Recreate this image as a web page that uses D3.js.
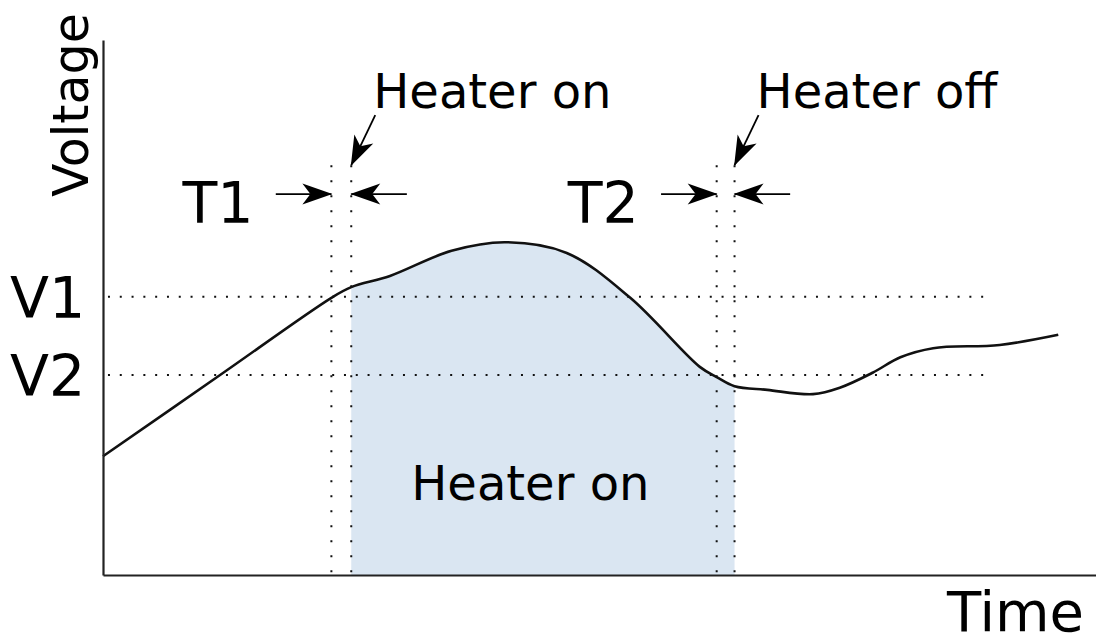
<!DOCTYPE html>
<html>
<head>
<meta charset="utf-8">
<script src="https://cdn.jsdelivr.net/npm/d3@7"></script>
<style>
  body { margin: 0; background: #fff; }
  svg text { font-family: "DejaVu Sans", sans-serif; fill: #000; }
</style>
</head>
<body>
<div id="chart-area"></div>
<script>

// Data (time and voltage in arbitrary units 0..100)
var times    = [0, 11.5, 23, 25, 28.9, 35.1, 40.5, 46.7, 53.1, 60.1, 61.8, 63.6, 66.9, 71.5, 74.2, 77.5, 80.3, 83.6, 90.3, 96.2];
var voltages = [22.2, 37.0, 51.8, 53.8, 55.9, 60.6, 62.2, 60.2, 51.8, 38.9, 37.0, 35.3, 34.6, 33.8, 35.0, 37.8, 40.7, 42.4, 43.0, 44.9];

// Heater switching: T1 window then heater on, T2 window then heater off
var switchTimes  = [23, 25, 61.8, 63.6];
var windowLabels = ["T1", "T2"];
var eventLabels  = ["Heater on", "Heater off"];

// Voltage levels
var levelLabels = ["V1", "V2"];
var levelValues = [52, 37.4];

var data = times.map(function(t, i) { return { t: t, v: voltages[i] }; });

// Setup the canvas
var width = 1096, height = 637;
var svg = d3.select("#chart-area").append("svg")
	.attr("width", width)
	.attr("height", height);

var x = d3.scaleLinear().domain([0, 100]).range([103, 1096]);
var y = d3.scaleLinear().domain([0, 100]).range([575, 40]);

var defs = svg.append("defs");
defs.append("marker")
	.attr("id", "head")
	.attr("markerUnits", "userSpaceOnUse")
	.attr("viewBox", "-32 -13 34 26")
	.attr("refX", 0).attr("refY", 0)
	.attr("markerWidth", 34).attr("markerHeight", 26)
	.attr("orient", "auto")
	.append("path")
		.attr("d", "M1,0 L-29,-10.5 L-21,0 L-29,10.5 Z")
		.attr("fill", "#000");

defs.append("clipPath")
	.attr("id", "heat-clip")
	.append("rect")
		.attr("x", x(switchTimes[1]))
		.attr("y", 0)
		.attr("width", x(switchTimes[3]) - x(switchTimes[1]))
		.attr("height", height);

// Shaded region while heater is on
var curve = d3.curveCatmullRom.alpha(0.5);
svg.append("path")
	.datum(data)
	.attr("clip-path", "url(#heat-clip)")
	.attr("fill", "#dae6f2")
	.attr("d", d3.area().x(function(d) { return x(d.t); }).y0(y(0)).y1(function(d) { return y(d.v); }).curve(curve));

// Dotted guides
var dotTop = 76.6;
svg.selectAll(".vguide").data(switchTimes).enter()
	.append("line")
		.attr("class", "vguide")
		.attr("x1", function(d) { return x(d); })
		.attr("x2", function(d) { return x(d); })
		.attr("y1", y(dotTop))
		.attr("y2", y(0))
		.attr("stroke", "#111")
		.attr("stroke-width", 2)
		.attr("stroke-dasharray", "2,13");

svg.selectAll(".hguide").data(levelValues).enter()
	.append("line")
		.attr("class", "hguide")
		.attr("x1", x(0.5))
		.attr("x2", x(89))
		.attr("y1", function(d) { return y(d); })
		.attr("y2", function(d) { return y(d); })
		.attr("stroke", "#111")
		.attr("stroke-width", 2)
		.attr("stroke-dasharray", "2,9.8");

// The voltage curve
svg.append("path")
	.datum(data)
	.attr("fill", "none")
	.attr("stroke", "#111")
	.attr("stroke-width", 2.6)
	.attr("d", d3.line().x(function(d) { return x(d.t); }).y(function(d) { return y(d.v); }).curve(curve));

// Axes (lines only)
svg.append("g")
	.attr("transform", "translate(" + x(0) + ",0)")
	.call(d3.axisLeft(y).ticks(0).tickSizeOuter(0))
	.select(".domain").attr("stroke", "#222").attr("stroke-width", 2.2);

svg.append("g")
	.attr("transform", "translate(0," + y(0) + ")")
	.call(d3.axisBottom(x).ticks(0).tickSizeOuter(0))
	.select(".domain").attr("stroke", "#222").attr("stroke-width", 2.2);

// Axis labels
svg.append("text")
	.attr("transform", "translate(88,197) rotate(-90)")
	.attr("font-size", "49px")
	.text("Voltage");

svg.append("text")
	.attr("x", 947).attr("y", 631)
	.attr("font-size", "56px")
	.text("Time");

// Level labels
svg.selectAll(".level").data(levelValues).enter()
	.append("text")
		.attr("class", "level")
		.attr("x", 10)
		.attr("y", function(d) { return y(d) + 21; })
		.attr("font-size", "57px")
		.text(function(d, i) { return levelLabels[i]; });

// T1 / T2 windows with converging arrows
var arrowV = 71.2, arrowLen = 5.6;
windowLabels.forEach(function(label, i) {
	var t0 = switchTimes[i * 2], t1 = switchTimes[i * 2 + 1];
	svg.append("line")
		.attr("x1", x(t0 - arrowLen)).attr("x2", x(t0))
		.attr("y1", y(arrowV)).attr("y2", y(arrowV))
		.attr("stroke", "#000").attr("stroke-width", 1.8)
		.attr("marker-end", "url(#head)");
	svg.append("line")
		.attr("x1", x(t1 + arrowLen)).attr("x2", x(t1))
		.attr("y1", y(arrowV)).attr("y2", y(arrowV))
		.attr("stroke", "#000").attr("stroke-width", 1.8)
		.attr("marker-end", "url(#head)");
	svg.append("text")
		.attr("x", x(t0) - 149)
		.attr("y", y(arrowV) + 29)
		.attr("font-size", "57px")
		.text(label);

	// Event label with diagonal arrow pointing at the switch line
	svg.append("line")
		.attr("x1", x(t1) + 24).attr("y1", y(dotTop) - 50)
		.attr("x2", x(t1)).attr("y2", y(dotTop))
		.attr("stroke", "#000").attr("stroke-width", 1.8)
		.attr("marker-end", "url(#head)");
	svg.append("text")
		.attr("x", x(t1) + 22)
		.attr("y", 108)
		.attr("font-size", "48px")
		.text(eventLabels[i]);
});

// Label inside the shaded region
svg.append("text")
	.attr("x", x(switchTimes[1]) + 60)
	.attr("y", 500)
	.attr("font-size", "48px")
	.text("Heater on");

</script>
</body>
</html>
